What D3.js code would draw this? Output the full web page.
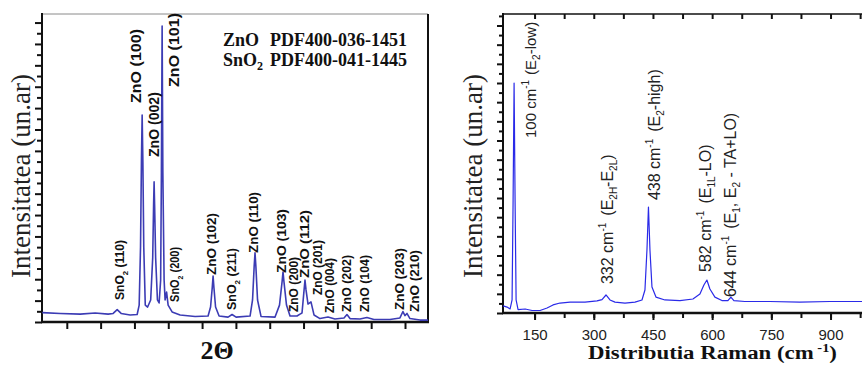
<!DOCTYPE html>
<html><head><meta charset="utf-8">
<script src="https://cdn.jsdelivr.net/npm/d3@7"></script>
<style>body{margin:0;background:#fff}svg{display:block}text{white-space:pre}</style>
</head><body>
<svg id="c" width="862" height="366"></svg>
<script>
// ---------- XRD (left panel) ----------
const xrdTwoTheta = [9.55,13.54,17.97,21.29,24.17,25.28,26.17,27.05,29.05,30.60,31.05,31.35,31.55,31.71,31.87,32.07,32.40,32.92,33.60,34.05,34.25,34.36,34.47,34.70,35.10,35.47,35.81,35.98,36.14,36.30,36.58,36.80,37.13,37.47,38.35,40.13,43.45,46.33,46.88,47.25,47.44,47.63,47.99,48.77,50.76,51.65,52.54,55.64,56.19,56.55,56.74,56.93,57.30,58.07,61.18,62.17,62.75,62.95,63.15,63.72,64.50,66.05,66.72,67.16,67.62,67.82,68.05,68.49,69.15,69.82,71.15,72.92,74.47,76.47,77.13,77.80,80.01,81.56,83.11,86.66,88.88,89.54,89.99,90.43,91.10,93.32,95.09];
const xrdIntensity = [0.44,0.40,0.37,0.42,0.37,0.40,0.58,0.40,0.33,0.35,0.79,3.50,7.50,9.68,7.50,3.50,0.79,0.70,1.03,3.00,5.50,6.55,5.50,3.00,1.03,0.89,1.96,7.00,13.84,7.00,1.96,1.03,1.40,0.79,0.47,0.33,0.26,0.28,0.70,1.60,2.15,1.60,0.70,0.28,0.23,0.35,0.23,0.28,1.03,2.60,3.23,2.60,1.03,0.26,0.23,0.79,1.90,2.34,1.90,0.79,0.28,0.28,0.37,0.42,1.50,1.96,1.50,0.84,0.94,0.33,0.16,0.23,0.14,0.19,0.35,0.16,0.14,0.21,0.12,0.12,0.19,0.49,0.30,0.40,0.16,0.09,0.09];
const xrdTicksMajor = [15,30,45,60,75,90];
const xrdTicksMinor = [22.5,37.5,52.5,67.5,82.5];
const xrdLabelText = ["ZnO (100)","ZnO (002)","ZnO (101)","SnO|2| (110)","SnO|2| (200)","ZnO (102)","SnO|2| (211)","ZnO (110)","ZnO (103)","ZnO (200)","ZnO (112)","ZnO (201)","ZnO (004)","ZnO (202)","ZnO (104)","ZnO (203)","ZnO (210)"];
const xrdLabelX = [31.48,35.47,39.90,27.72,39.90,48.10,52.53,57.41,63.62,66.27,68.71,71.59,74.25,78.02,82.01,89.76,93.08];
const xrdLabelY = [10.24,7.71,10.99,1.03,0.94,2.20,0.56,3.23,2.29,0.47,2.06,1.26,0.42,0.47,0.47,0.56,0.47];
const xrdLabelLen = [74,65,74,60,55,62,62,61,64,55,68,55,55,57,57,62,62];
const xrdLegendPhase = ["ZnO","SnO|2|"];
const xrdLegendCard = ["PDF400-036-1451","PDF400-041-1445"];

// ---------- Raman (right panel) ----------
const ramanShift = [70.3,80.4,88.0,93.0,95.6,98.1,100.6,103.2,108.2,126.0,143.7,163.9,181.6,196.8,214.4,239.9,277.8,308.2,320.9,331.0,341.1,353.8,379.1,404.4,422.2,429.7,434.8,438.6,442.4,447.5,457.6,480.4,518.4,551.3,569.0,579.1,586.7,594.3,607.0,624.7,639.9,647.5,655.1,683.0,746.2,822.2,898.1,979.1,1000];
const ramanIntensity = [0.37,0.31,0.21,0.68,5.89,12.0,5.89,0.68,0.18,0.21,0.13,0.13,0.26,0.42,0.52,0.57,0.57,0.63,0.70,0.94,0.68,0.57,0.52,0.57,0.68,1.20,3.29,5.53,3.29,1.36,0.83,0.68,0.65,0.73,0.99,1.46,1.72,1.25,0.83,0.65,0.65,0.83,0.65,0.60,0.60,0.57,0.60,0.60,0.60];
const ramanTickLabels = [150,300,450,600,750,900];
const ramanTicksAll = [150,225,300,375,450,525,600,675,750,825,900,975];
const ramanLabelMain = ["100 cm","332 cm","438 cm","582 cm","644 cm"];
const ramanLabelRest = [["(E","2","-low)"],["(E","2H","-E","2L",")"],["(E","2","-high)"],["(E","1L","-LO)"],["(E","1",", E","2"," - TA+LO)"]];
const ramanLabelX = [153.8,347.5,467.7,598.1,661.4];
const ramanLabelY = [9.13,1.51,5.89,2.14,0.83];

const svg = d3.select("#c");
const serif = "'Liberation Serif','Times New Roman',serif";
const sans = "'Liberation Sans',Arial,sans-serif";

function richText(sel, str, subSize){
  const parts = str.split("|");
  parts.forEach((p,i)=>{
    if(!p) return;
    const t = sel.append("tspan").text(p);
    if(i%2===1){ t.attr("font-size",subSize).attr("dy",4); }
    else if(i>0){ t.attr("dy",-4); }
  });
}

// ===== Left panel =====
{
  const x = d3.scaleLinear().domain([9.5,95.1]).range([42,428]);
  const y = d3.scaleLinear().domain([0,14.4]).range([322,14]);
  const g = svg.append("g");

  const yMaj = d3.range(0,15,1), yMin = d3.range(0.5,14.4,1);
  g.append("g").attr("transform","translate(42,0)")
    .call(d3.axisLeft(y).tickValues(yMaj).tickSize(7).tickFormat(""))
    .call(a=>a.select(".domain").remove())
    .call(a=>a.selectAll("line").attr("stroke","#111").attr("stroke-width",2));
  g.append("g").attr("transform","translate(42,0)")
    .call(d3.axisLeft(y).tickValues(yMin).tickSize(5).tickFormat(""))
    .call(a=>a.select(".domain").remove())
    .call(a=>a.selectAll("line").attr("stroke","#111").attr("stroke-width",2));
  g.append("g").attr("transform","translate(0,322)")
    .call(d3.axisBottom(x).tickValues(xrdTicksMajor.concat(xrdTicksMinor)).tickSize(7).tickFormat(""))
    .call(a=>a.select(".domain").remove())
    .call(a=>a.selectAll("line").attr("stroke","#111").attr("stroke-width",2));

  g.append("line").attr("x1",42).attr("x2",428).attr("y1",14).attr("y2",14).attr("stroke","#8a8a8a").attr("stroke-width",1);
  g.append("line").attr("x1",428).attr("x2",428).attr("y1",14).attr("y2",323).attr("stroke","#111").attr("stroke-width",2);
  g.append("line").attr("x1",42).attr("x2",42).attr("y1",13).attr("y2",323).attr("stroke","#111").attr("stroke-width",2);
  g.append("line").attr("x1",41).attr("x2",429).attr("y1",322).attr("y2",322).attr("stroke","#111").attr("stroke-width",2.5);

  const line = d3.line().x((d,i)=>x(xrdTwoTheta[i])).y(d=>y(d));
  g.append("path").datum(xrdIntensity).attr("d",line)
    .attr("fill","none").attr("stroke","#3c3cb4").attr("stroke-width",1.6).attr("stroke-linejoin","round");

  xrdLabelText.forEach((s,i)=>{
    const px = x(xrdLabelX[i]), py = y(xrdLabelY[i]);
    const big = i<3;
    const t = g.append("text").attr("transform",`translate(${px},${py}) rotate(-90)`)
      .attr("font-family",sans).attr("font-weight","bold").attr("font-size",big?14.5:12.5)
      .attr("fill","#111").attr("textLength",xrdLabelLen[i]).attr("lengthAdjust","spacingAndGlyphs");
    richText(t,s,8);
  });

  xrdLegendPhase.forEach((s,i)=>{
    const t = g.append("text").attr("x",223).attr("y",46+i*20)
      .attr("font-family",serif).attr("font-weight","bold").attr("font-size",18).attr("fill","#111");
    richText(t,s,12);
    g.append("text").attr("x",270).attr("y",46+i*20)
      .attr("font-family",serif).attr("font-weight","bold").attr("font-size",18).attr("fill","#111").text(xrdLegendCard[i]);
  });

  g.append("text").attr("transform","translate(30,176) rotate(-90)").attr("text-anchor","middle")
    .attr("font-family",serif).attr("font-size",27).attr("fill","#222").text("Intensitatea (un.ar)");
  g.append("text").attr("x",217).attr("y",359).attr("text-anchor","middle")
    .attr("font-family",serif).attr("font-weight","bold").attr("font-size",26).attr("fill","#111").text("2Θ");
}

// ===== Right panel =====
{
  const x = d3.scaleLinear().domain([70,1000]).range([503,870]);
  const y = d3.scaleLinear().domain([0,15.6]).range([313,14]);
  const g = svg.append("g");

  const yMaj = d3.range(0,16,1), yMin = d3.range(0.5,15.6,1);
  g.append("g").attr("transform","translate(503,0)")
    .call(d3.axisLeft(y).tickValues(yMaj).tickSize(6).tickFormat(""))
    .call(a=>a.select(".domain").remove())
    .call(a=>a.selectAll("line").attr("stroke","#111").attr("stroke-width",2));
  g.append("g").attr("transform","translate(503,0)")
    .call(d3.axisLeft(y).tickValues(yMin).tickSize(4).tickFormat(""))
    .call(a=>a.select(".domain").remove())
    .call(a=>a.selectAll("line").attr("stroke","#111").attr("stroke-width",2));

  g.append("g").attr("transform","translate(0,313)")
    .call(d3.axisBottom(x).tickValues(ramanTicksAll).tickSize(5).tickFormat(""))
    .call(a=>a.select(".domain").remove())
    .call(a=>a.selectAll("line").attr("stroke","#111").attr("stroke-width",2));
  g.append("g").attr("transform","translate(0,313)")
    .call(d3.axisBottom(x).tickValues(ramanTickLabels).tickSize(7).tickPadding(9).tickFormat(d3.format("d")))
    .call(a=>a.select(".domain").remove())
    .call(a=>a.selectAll("line").attr("stroke","#111").attr("stroke-width",2))
    .call(a=>a.selectAll("text").attr("font-family",sans).attr("font-size",15).attr("fill","#222"));
  g.append("g").attr("transform","translate(0,14)")
    .call(d3.axisBottom(x).tickValues(ramanTicksAll).tickSize(5).tickFormat(""))
    .call(a=>a.select(".domain").remove())
    .call(a=>a.selectAll("line").attr("stroke","#111").attr("stroke-width",2));

  g.append("line").attr("x1",503).attr("x2",870).attr("y1",14).attr("y2",14).attr("stroke","#111").attr("stroke-width",1.5);
  g.append("line").attr("x1",503).attr("x2",503).attr("y1",13).attr("y2",314).attr("stroke","#111").attr("stroke-width",2);
  g.append("line").attr("x1",502).attr("x2",870).attr("y1",313).attr("y2",313).attr("stroke","#111").attr("stroke-width",2.5);

  const line = d3.line().x((d,i)=>x(ramanShift[i])).y(d=>y(d));
  g.append("path").datum(ramanIntensity).attr("d",line)
    .attr("fill","none").attr("stroke","#2a2ae8").attr("stroke-width",1.2).attr("stroke-linejoin","round");

  ramanLabelMain.forEach((s,i)=>{
    const px = x(ramanLabelX[i]), py = y(ramanLabelY[i]);
    const t = g.append("text").attr("transform",`translate(${px},${py}) rotate(-90)`)
      .attr("font-family",sans).attr("font-size",i===0?15:16).attr("fill","#222");
    t.append("tspan").text(s);
    t.append("tspan").attr("font-size",10).attr("dy",-7).text("-1");
    t.append("tspan").attr("dy",7).attr("dx",i===0?5:7).text("(E");
    ramanLabelRest[i].slice(1).forEach((p,k)=>{
      const ts = t.append("tspan").text(p);
      if(k%2===0){ ts.attr("font-size",10).attr("dy",4); }
      else { ts.attr("dy",-4); }
    });
  });

  g.append("text").attr("transform","translate(482,176) rotate(-90)").attr("text-anchor","middle")
    .attr("font-family",serif).attr("font-size",27).attr("fill","#222").text("Intensitatea (un.ar)");
  const tt = g.append("text").attr("x",0).attr("y",0)
    .attr("font-family",serif).attr("font-weight","bold").attr("font-size",19).attr("fill","#111");
  tt.append("tspan").text("Distributia Raman (cm");
  tt.append("tspan").attr("font-size",12).attr("dy",-7).text(" -1");
  tt.append("tspan").attr("dy",7).text(")");
  const w = tt.node().getComputedTextLength();
  const sx = 249 / w;
  tt.attr("transform",`translate(588,359) scale(${sx},1)`);
}
</script>
</body></html>
